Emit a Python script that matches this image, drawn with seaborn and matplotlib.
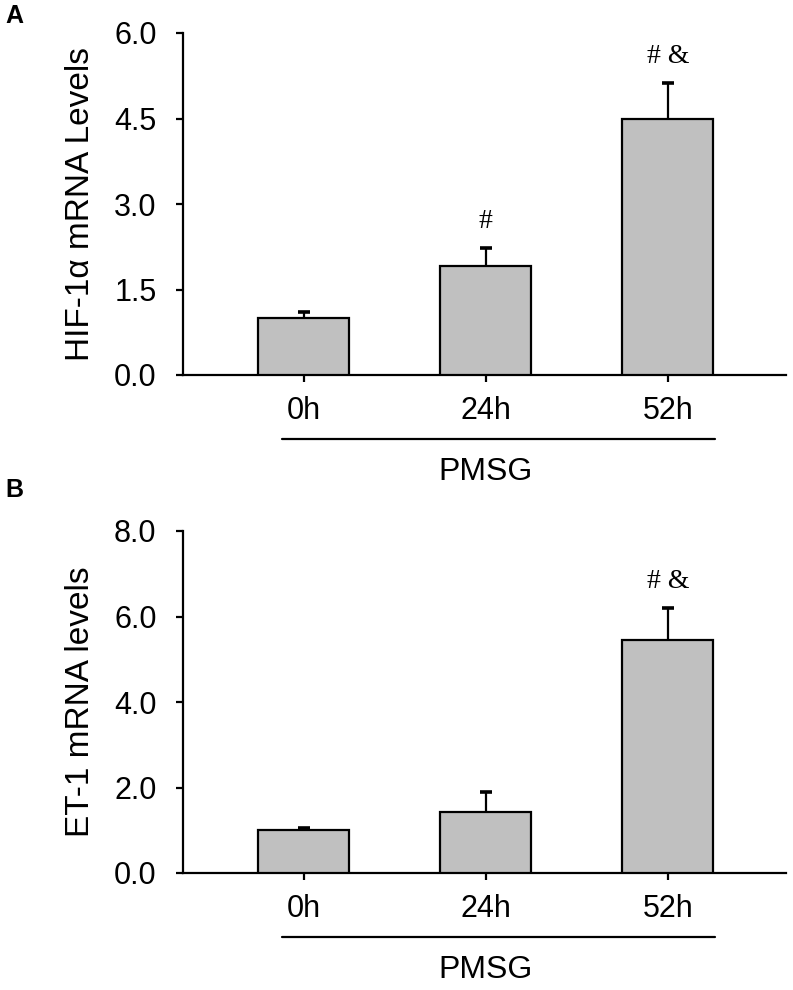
import matplotlib
matplotlib.use("Agg")
import matplotlib.pyplot as plt
import matplotlib.transforms as mtransforms
import seaborn as sns
import pandas as pd
import numpy as np

# ---- data ----
categories = ["0h", "24h", "52h"]
hif_values = [1.0, 1.91, 4.49]
hif_errors = [0.10, 0.32, 0.64]
hif_marks = ["", "#", "# &"]
et1_values = [1.0, 1.43, 5.45]
et1_errors = [0.05, 0.47, 0.75]
et1_marks = ["", "", "# &"]
hif_yticks = [0.0, 1.5, 3.0, 4.5, 6.0]
et1_yticks = [0.0, 2.0, 4.0, 6.0, 8.0]
group_label = "PMSG"

sns.set_style("ticks")
plt.rcParams["font.family"] = ["Liberation Sans", "DejaVu Sans"]
plt.rcParams["text.color"] = "black"
plt.rcParams["axes.labelcolor"] = "black"
plt.rcParams["xtick.color"] = "black"
plt.rcParams["ytick.color"] = "black"

W, H = 793, 990
fig = plt.figure(figsize=(W / 100, H / 100), dpi=100)

panels = [
    dict(letter="A", vals=hif_values, errs=hif_errors, marks=hif_marks,
         yticks=hif_yticks, ylabel="HIF-1α mRNA Levels", top=33, bottom=375, ly=16),
    dict(letter="B", vals=et1_values, errs=et1_errors, marks=et1_marks,
         yticks=et1_yticks, ylabel="ET-1 mRNA levels", top=531, bottom=873, ly=490),
]

left_px, right_px = 183, 786
for p in panels:
    ax = fig.add_axes([left_px / W, 1 - p["bottom"] / H,
                       (right_px - left_px) / W, (p["bottom"] - p["top"]) / H])
    df = pd.DataFrame({"time": categories, "value": p["vals"]})
    sns.barplot(data=df, x="time", y="value", order=categories, color="#c0c0c0",
                saturation=1, width=0.5, edgecolor="black", linewidth=1.6,
                errorbar=None, ax=ax, zorder=3)
    xs = np.arange(len(categories))
    _, caps, _ = ax.errorbar(xs, p["vals"], yerr=[np.zeros(len(xs)), p["errs"]], fmt="none",
                             ecolor="black", elinewidth=1.6, capsize=4.5, capthick=2.6, zorder=2)
    if len(caps) == 2:
        caps[0].set_visible(False)
    for x, v, e, m in zip(xs, p["vals"], p["errs"], p["marks"]):
        if m:
            ax.annotate(m, (x, v + e), xytext=(0, 19), textcoords="offset points",
                        ha="center", va="center", fontsize=20,
                        family=["Liberation Serif", "DejaVu Serif"])
    ax.set_xlim(-0.665, 2.65)
    ax.set_ylim(p["yticks"][0], p["yticks"][-1])
    ax.set_yticks(p["yticks"])
    ax.set_yticklabels([f"{t:.1f}" for t in p["yticks"]])
    ax.set_xlabel("")
    ax.set_ylabel(p["ylabel"], fontsize=24, labelpad=13)
    ax.tick_params(axis="both", direction="out", length=5, width=1.6, labelsize=22)
    ax.tick_params(axis="x", pad=10)
    ax.tick_params(axis="y", pad=14)
    sns.despine(ax=ax)
    for s in ["left", "bottom"]:
        ax.spines[s].set_linewidth(1.6)
        ax.spines[s].set_color("black")
    ax.set_facecolor("white")
    trans = mtransforms.blended_transform_factory(ax.transData, ax.transAxes)
    ax.plot([-0.12, 2.26], [-0.187, -0.187], color="black", lw=1.6,
            transform=trans, clip_on=False)
    ax.text(1.0, -0.285, group_label, transform=trans, ha="center", va="center", fontsize=23)
    fig.text(5 / W, 1 - p["ly"] / H, p["letter"], fontsize=18, fontweight="bold",
             ha="left", va="center")

fig.savefig("out.png", dpi=100, facecolor="white")
